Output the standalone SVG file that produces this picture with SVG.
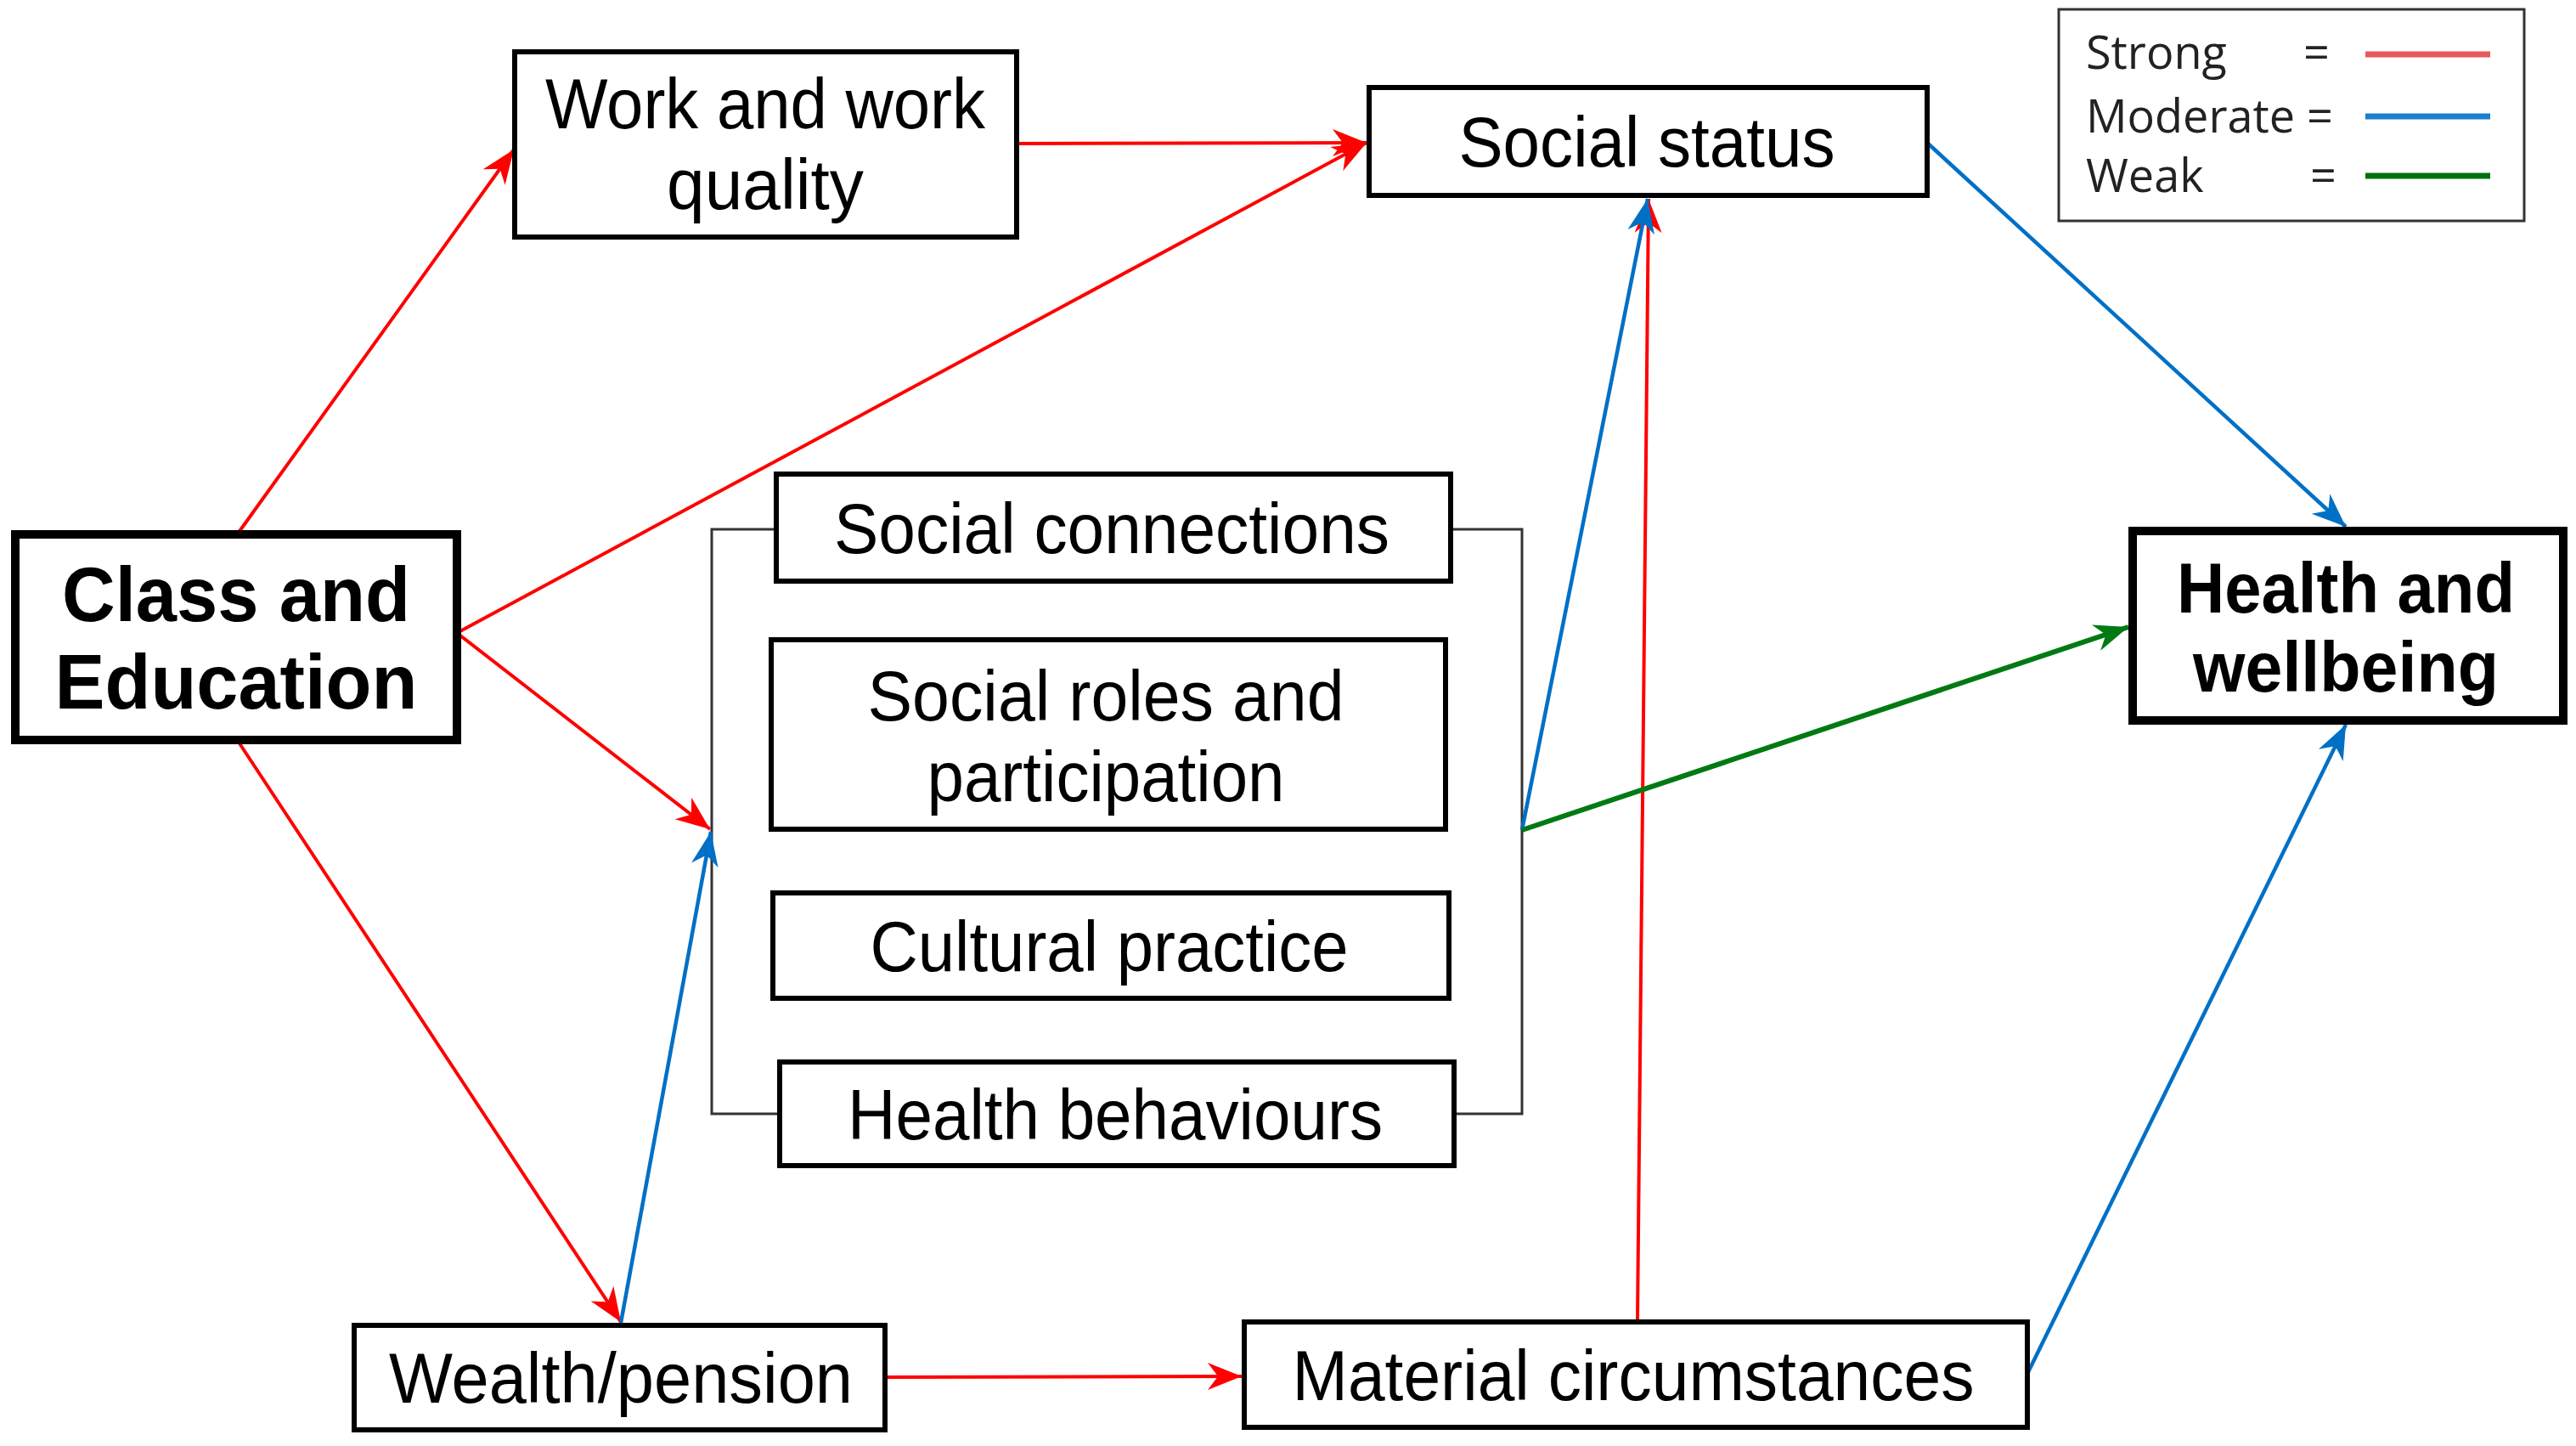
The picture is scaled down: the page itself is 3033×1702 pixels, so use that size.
<svg xmlns="http://www.w3.org/2000/svg" width="3033" height="1702" viewBox="0 0 3033 1702">
<style>
.box{fill:#fff;stroke:#000;stroke-width:6}
.thick{fill:#fff;stroke:#000;stroke-width:10}
.t{font-family:"Liberation Sans",Arial,sans-serif;font-size:84px;fill:#000;text-anchor:middle}
.b{font-family:"Liberation Sans",Arial,sans-serif;font-size:90px;font-weight:bold;fill:#000;text-anchor:middle}
.lg{font-family:"Open Sans","Noto Sans",sans-serif;font-size:54px;fill:#222}
.red{stroke:#ff0000;stroke-width:4;fill:none;marker-end:url(#ar)}
.blue{stroke:#0070c6;stroke-width:4.5;fill:none;marker-end:url(#ab)}
.green{stroke:#007a12;stroke-width:6;fill:none;marker-end:url(#ag)}
.brk{stroke:#333;stroke-width:3;fill:none}
</style>
<defs>
<marker id="ar" markerUnits="userSpaceOnUse" viewBox="-42 -18 44 36" markerWidth="44" markerHeight="36" refX="0" refY="0" orient="auto"><path d="M0,0 L-40,-16 L-28,0 L-40,16 Z" fill="#ff0000"/></marker>
<marker id="ab" markerUnits="userSpaceOnUse" viewBox="-42 -18 44 36" markerWidth="44" markerHeight="36" refX="0" refY="0" orient="auto"><path d="M0,0 L-40,-16 L-28,0 L-40,16 Z" fill="#0070c6"/></marker>
<marker id="ag" markerUnits="userSpaceOnUse" viewBox="-42 -18 44 36" markerWidth="44" markerHeight="36" refX="0" refY="0" orient="auto"><path d="M0,0 L-40,-16 L-28,0 L-40,16 Z" fill="#007a12"/></marker>
</defs>
<rect width="3033" height="1702" fill="#fff"/>

<g id="bracket">
<path class="brk" d="M913,623 H838 V1311 H917"/>
<path class="brk" d="M1708,623 H1792 V1311 H1712"/>
</g>

<g id="connectors">
<line class="red" x1="280" y1="628" x2="605" y2="176"/>
<line class="red" x1="538" y1="745" x2="1609" y2="168"/>
<line class="red" x1="1197" y1="169" x2="1609" y2="168"/>
<line class="red" x1="538" y1="745" x2="836" y2="976"/>
<line class="red" x1="280" y1="872" x2="731" y2="1556"/>
<line class="blue" x1="731" y1="1557" x2="837" y2="979"/>
<line class="red" x1="1042" y1="1621" x2="1462" y2="1620"/>
<line class="red" x1="1928" y1="1553" x2="1941" y2="234"/>
<line class="blue" x1="1792" y1="977" x2="1940" y2="234"/>
<line class="green" x1="1792" y1="977" x2="2506" y2="738"/>
<line class="blue" x1="2269" y1="168" x2="2762" y2="620"/>
<line class="blue" x1="2387" y1="1617" x2="2762" y2="853"/>
</g>

<g id="class-education">
<rect class="thick" x="18" y="629" width="520" height="242"/>
<text class="b" x="278" y="731" textLength="410" lengthAdjust="spacingAndGlyphs">Class and</text>
<text class="b" x="278" y="834" textLength="427" lengthAdjust="spacingAndGlyphs">Education</text>
</g>

<g id="work">
<rect class="box" x="606" y="61" width="591" height="218"/>
<text class="t" x="901" y="151" textLength="518" lengthAdjust="spacingAndGlyphs">Work and work</text>
<text class="t" x="901" y="246" textLength="232" lengthAdjust="spacingAndGlyphs">quality</text>
</g>

<g id="social-status">
<rect class="box" x="1612" y="103" width="657" height="127"/>
<text class="t" x="1939" y="196" textLength="443" lengthAdjust="spacingAndGlyphs">Social status</text>
</g>

<g id="legend">
<rect x="2424" y="11" width="548" height="249" fill="#fff" stroke="#333" stroke-width="3"/>
<text class="lg" x="2456" y="81">Strong</text>
<text class="lg" x="2456" y="156">Moderate</text>
<text class="lg" x="2456" y="226">Weak</text>
<text class="lg" x="2712" y="81">=</text>
<text class="lg" x="2716" y="156">=</text>
<text class="lg" x="2720" y="226">=</text>
<line x1="2785" y1="64" x2="2932" y2="64" stroke="#e85a5a" stroke-width="7"/>
<line x1="2785" y1="137" x2="2932" y2="137" stroke="#1a80cc" stroke-width="7"/>
<line x1="2785" y1="207" x2="2932" y2="207" stroke="#007010" stroke-width="7"/>
</g>

<g id="health-wellbeing">
<rect class="thick" x="2511" y="625" width="507" height="223"/>
<text class="b" x="2762" y="721" textLength="398" lengthAdjust="spacingAndGlyphs" style="font-size:84px">Health and</text>
<text class="b" x="2762" y="814" textLength="360" lengthAdjust="spacingAndGlyphs" style="font-size:84px">wellbeing</text>
</g>

<g id="social-connections">
<rect class="box" x="914" y="558" width="794" height="126"/>
<text class="t" x="1309" y="651" textLength="654" lengthAdjust="spacingAndGlyphs">Social connections</text>
</g>

<g id="social-roles">
<rect class="box" x="908" y="753" width="794" height="223"/>
<text class="t" x="1302" y="848" textLength="561" lengthAdjust="spacingAndGlyphs">Social roles and</text>
<text class="t" x="1302" y="943" textLength="421" lengthAdjust="spacingAndGlyphs">participation</text>
</g>

<g id="cultural-practice">
<rect class="box" x="910" y="1051" width="796" height="124"/>
<text class="t" x="1306" y="1143" textLength="563" lengthAdjust="spacingAndGlyphs">Cultural practice</text>
</g>

<g id="health-behaviours">
<rect class="box" x="918" y="1250" width="794" height="122"/>
<text class="t" x="1313" y="1341" textLength="630" lengthAdjust="spacingAndGlyphs">Health behaviours</text>
</g>

<g id="wealth-pension">
<rect class="box" x="417" y="1560" width="625" height="123"/>
<text class="t" x="731" y="1651" textLength="546" lengthAdjust="spacingAndGlyphs">Wealth/pension</text>
</g>

<g id="material-circumstances">
<rect class="box" x="1465" y="1556" width="922" height="124"/>
<text class="t" x="1923" y="1648" textLength="803" lengthAdjust="spacingAndGlyphs">Material circumstances</text>
</g>
</svg>
